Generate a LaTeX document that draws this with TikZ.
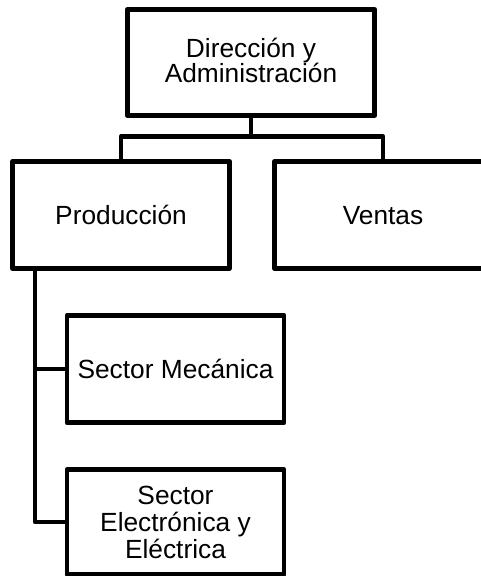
\documentclass[tikz,border=0pt]{standalone}
\usepackage{fontspec}
\setmainfont{Liberation Sans}
\begin{document}
\begin{tikzpicture}[x=1pt,y=-1pt,
  line width=4.8pt, line join=round,
  orgbox/.style={draw=black, rectangle, inner sep=0pt, align=center,
    font=\fontsize{26.3}{22}\selectfont, text height=18.8pt, text depth=0pt},
  conn/.style={draw=black, line width=4.8pt}]
\useasboundingbox (0,0) rectangle (481,576);
\clip (0,0) rectangle (481,576);
\node[orgbox, minimum width=247.5pt, minimum height=106pt, text height=40.8pt] (top) at (251,62.5) {Dirección y\\Administración};
\node[orgbox, minimum width=216.5pt, minimum height=107pt] (prod) at (121,215) {Producción};
\node[orgbox, minimum width=216.5pt, minimum height=107pt] (ventas) at (383,215) {Ventas};
\node[orgbox, minimum width=217pt, minimum height=107.5pt] (mec) at (175.5,369) {Sector Mecánica};
\node[orgbox, minimum width=217pt, minimum height=105pt, font=\fontsize{26.3}{27}\selectfont, text height=72.8pt] (ele) at (175.5,522) {Sector\\Electrónica y\\Eléctrica};
\coordinate (bus) at (251,136.5);
\coordinate (pl) at (35,268.5);
\draw[conn] (top.south) -- (bus);
\draw[conn] (prod.north) |- (bus) -| (ventas.north);
\draw[conn] (ele.west) -| (pl);
\draw[conn] (mec.west) -- (mec.west -| pl);
\end{tikzpicture}
\end{document}
